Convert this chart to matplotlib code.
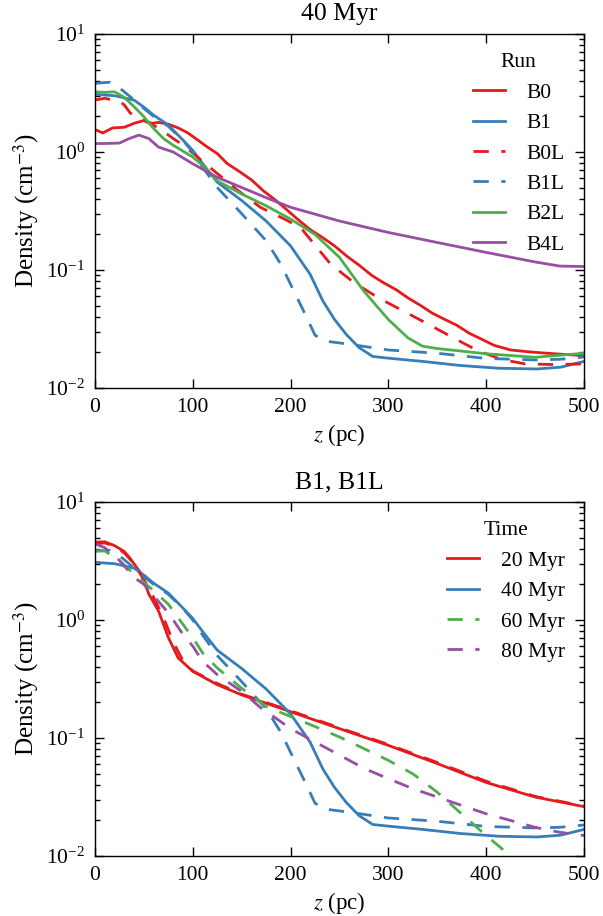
import matplotlib
matplotlib.use("Agg")
import matplotlib.pyplot as plt
from matplotlib.ticker import LogLocator, NullFormatter

plt.rcParams['font.family'] = ['Liberation Serif', 'DejaVu Serif']
plt.rcParams['mathtext.fontset'] = 'stix'
plt.rcParams['font.size'] = 15

# ---------------- Top panel: 40 Myr ----------------
top_title = "40 Myr"
top_legend_title = "Run"

z_B0 = [0, 8, 18, 30, 40, 50, 58, 65, 75, 85, 95, 103, 115, 125, 135, 148, 160, 172, 183, 195, 207,
        220, 232, 245, 258, 270, 283, 295, 308, 320, 333, 345, 358, 370, 383, 395, 408, 425, 445, 470, 500]
n_B0 = [1.55, 1.45, 1.6, 1.62, 1.75, 1.85, 1.75, 1.78, 1.72, 1.6, 1.45, 1.3, 1.1, 0.97, 0.8, 0.68, 0.58,
        0.47, 0.4, 0.33, 0.27, 0.22, 0.19, 0.16, 0.13, 0.11, 0.09, 0.078, 0.068, 0.058, 0.05, 0.043,
        0.038, 0.034, 0.029, 0.026, 0.023, 0.021, 0.0202, 0.0195, 0.0188]

z_B1 = [0, 20, 40, 50, 60, 75, 90, 100, 110, 125, 150, 175, 200, 220, 233, 245, 257, 270, 284, 300,
        335, 374, 413, 452, 476, 500]
n_B1 = [3.08, 3.0, 2.75, 2.4, 2.05, 1.69, 1.26, 1.03, 0.8, 0.555, 0.388, 0.26, 0.16, 0.092, 0.0546,
        0.038, 0.0284, 0.022, 0.0185, 0.0179, 0.0168, 0.0155, 0.0147, 0.0145, 0.015, 0.0168]

z_B0L = [0, 10, 18, 25, 30, 36, 50, 65, 80, 87, 100, 121, 145, 169, 190, 210, 241, 265, 290, 315,
         340, 365, 390, 415, 440, 470, 500]
n_B0L = [2.76, 2.85, 2.76, 2.7, 2.5, 2.14, 1.85, 1.6, 1.3, 1.19, 0.98, 0.7, 0.48, 0.34, 0.28, 0.23,
         0.112, 0.078, 0.058, 0.045, 0.035, 0.027, 0.021, 0.0175, 0.016, 0.0158, 0.016]

z_B1L = [0, 15, 28, 40, 50, 60, 75, 90, 100, 110, 125, 150, 175, 190, 200, 215, 225, 235, 260, 300,
         350, 400, 450, 475, 500]
n_B1L = [3.82, 3.9, 3.34, 2.76, 2.34, 2.0, 1.65, 1.25, 1.0, 0.745, 0.5, 0.3, 0.177, 0.112, 0.0756,
         0.042, 0.028, 0.025, 0.0235, 0.021, 0.0197, 0.0178, 0.0173, 0.0175, 0.0183]

z_B2L = [0, 10, 20, 30, 40, 50, 60, 70, 80, 100, 110, 125, 150, 175, 200, 225, 250, 275, 300, 320,
         335, 350, 400, 450, 500]
n_B2L = [3.24, 3.2, 3.24, 2.9, 2.42, 1.99, 1.58, 1.3, 1.14, 0.906, 0.77, 0.57, 0.44, 0.35, 0.27,
         0.2, 0.128, 0.066, 0.038, 0.0266, 0.0226, 0.0216, 0.0195, 0.0182, 0.0197]

z_B4L = [0, 10, 25, 35, 45, 55, 65, 80, 100, 125, 150, 175, 200, 250, 300, 350, 400, 450, 475, 500]
n_B4L = [1.18, 1.18, 1.19, 1.3, 1.39, 1.3, 1.1, 1.0, 0.795, 0.61, 0.5, 0.41, 0.34, 0.26, 0.208,
         0.171, 0.141, 0.117, 0.108, 0.107]

# ---------------- Bottom panel: B1, B1L ----------------
bottom_title = "B1, B1L"
bottom_legend_title = "Time"

z_20 = [0, 10, 20, 30, 35, 45, 50, 55, 65, 75, 85, 100, 125, 150, 175, 200, 250, 300, 350, 400, 450, 500]
n_20 = [4.57, 4.6, 4.27, 3.8, 3.4, 2.62, 2.15, 1.66, 1.19, 0.71, 0.477, 0.367, 0.283, 0.232, 0.197,
        0.167, 0.12, 0.0866, 0.0607, 0.042, 0.0316, 0.0262]

z_20L = [0, 10, 20, 30, 40, 50, 60, 70, 80, 90, 100, 125, 150, 175, 200, 250, 300, 350, 400, 450, 500]
n_20L = [4.4, 4.5, 4.2, 3.7, 3.0, 2.2, 1.55, 1.05, 0.65, 0.45, 0.37, 0.29, 0.235, 0.2, 0.17,
         0.122, 0.088, 0.062, 0.043, 0.032, 0.0265]

z_60 = [0, 10, 25, 40, 50, 60, 75, 90, 100, 110, 125, 150, 175, 200, 225, 250, 275, 300, 325, 350,
        375, 400, 425, 435]
n_60 = [3.88, 3.85, 3.18, 2.45, 2.08, 1.77, 1.36, 0.918, 0.707, 0.526, 0.392, 0.264, 0.185, 0.152,
        0.125, 0.102, 0.0813, 0.0646, 0.0497, 0.0347, 0.0227, 0.0149, 0.01, 0.0085]

z_80 = [0, 10, 25, 40, 50, 60, 75, 90, 100, 110, 125, 150, 170, 185, 200, 225, 250, 275, 300, 325,
        350, 375, 400, 425, 450, 475, 500]
n_80 = [4.42, 4.1, 3.2, 2.3, 2.0, 1.6, 1.15, 0.755, 0.6, 0.447, 0.344, 0.248, 0.179, 0.147, 0.12,
        0.0925, 0.0717, 0.0553, 0.0452, 0.0372, 0.0316, 0.0268, 0.0228, 0.02, 0.0175, 0.0159, 0.0149]

x_ticks = [0, 100, 200, 300, 400, 500]
x_limits = (0, 500)
y_limits = (1e-2, 1e1)

RED = '#e41a1c'
BLUE = '#377eb8'
GREEN = '#4daf4a'
PURPLE = '#984ea3'
LW = 2.0
DASH = (5.5, 4.5)

fig = plt.figure(figsize=(6.03, 9.16), dpi=100)
ax1 = fig.add_axes([95 / 603, 1 - 388 / 916, 489 / 603, 354 / 916])
ax2 = fig.add_axes([95 / 603, 1 - 856 / 916, 489 / 603, 354 / 916])


def style(ax, title):
    ax.set_yscale('log')
    ax.set_xlim(*x_limits)
    ax.set_ylim(*y_limits)
    ax.set_xticks(x_ticks)
    ax.yaxis.set_minor_locator(LogLocator(base=10, subs=range(2, 10), numticks=20))
    ax.yaxis.set_minor_formatter(NullFormatter())
    ax.tick_params(which='both', direction='in', top=True, right=True, width=1.0)
    ax.tick_params(which='major', length=6.5, pad=7, labelsize=15.5)
    ax.tick_params(which='minor', length=3.5)
    ax.set_xlabel('$z$ (pc)', fontsize=16.5, labelpad=4)
    ax.set_ylabel('Density (cm$^{-3}$)', fontsize=18, labelpad=4)
    ax.set_title(title, fontsize=18.5, pad=10)
    for s in ax.spines.values():
        s.set_linewidth(1.0)


ax1.plot(z_B0, n_B0, color=RED, lw=LW, label='B0')
ax1.plot(z_B1, n_B1, color=BLUE, lw=LW, label='B1')
ax1.plot(z_B0L, n_B0L, color=RED, lw=LW, dashes=DASH, label='B0L')
ax1.plot(z_B1L, n_B1L, color=BLUE, lw=LW, dashes=DASH, label='B1L')
ax1.plot(z_B2L, n_B2L, color=GREEN, lw=LW, label='B2L')
ax1.plot(z_B4L, n_B4L, color=PURPLE, lw=LW, label='B4L')
style(ax1, top_title)
leg1 = ax1.legend(loc='upper right', frameon=False, title=top_legend_title, fontsize=15.5,
                  title_fontsize=15.5, handlelength=1.5, handletextpad=1.0, labelspacing=0.48)

ax2.plot(z_20, n_20, color=RED, lw=LW, label='20 Myr')
ax2.plot(z_B1, n_B1, color=BLUE, lw=LW, label='40 Myr')
ax2.plot(z_20L, n_20L, color=RED, lw=LW, dashes=DASH)
ax2.plot(z_B1L, n_B1L, color=BLUE, lw=LW, dashes=DASH)
ax2.plot(z_60, n_60, color=GREEN, lw=LW, dashes=DASH, label='60 Myr')
ax2.plot(z_80, n_80, color=PURPLE, lw=LW, dashes=DASH, label='80 Myr')
style(ax2, bottom_title)
leg2 = ax2.legend(loc='upper right', frameon=False, title=bottom_legend_title, fontsize=15.5,
                  title_fontsize=15.5, handlelength=1.5, handletextpad=1.0, labelspacing=0.48)

fig.savefig('out.png', dpi=100)
